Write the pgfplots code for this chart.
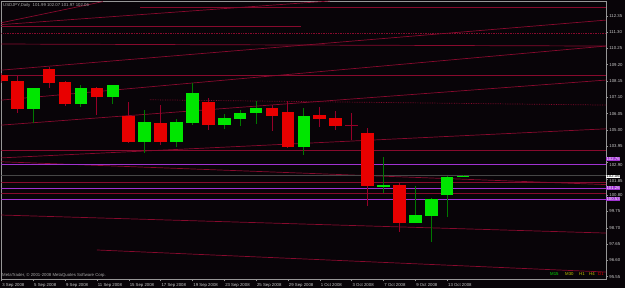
\documentclass[border=0pt]{standalone}
\usepackage{pgfplots}
\pgfplotsset{compat=1.18}
\usepackage{pgfplotstable}
\usepackage{fontspec}
\setmainfont{Liberation Sans}

\definecolor{bg}{RGB}{8,4,8}
\definecolor{framegray}{RGB}{150,150,150}
\definecolor{labelgray}{RGB}{200,200,200}
\definecolor{titlegray}{RGB}{170,170,170}
\definecolor{upbody}{RGB}{0,230,0}
\definecolor{dnbody}{RGB}{232,0,0}
\definecolor{upwick}{RGB}{0,120,0}
\definecolor{dnwick}{RGB}{150,0,40}
\definecolor{trend}{RGB}{135,10,45}
\definecolor{purp}{RGB}{160,50,210}
\definecolor{bidgray}{RGB}{70,70,70}
\definecolor{tfyellow}{RGB}{200,200,0}

% USDJPY daily candles (index, open, high, low, close)
\pgfplotstableread{
i o h l c
0 108.53 108.66 108.02 108.15
1 108.15 108.53 106.11 106.34
3 108.92 109.07 107.68 108.04
4 108.08 108.15 106.54 106.69
6 107.70 107.76 105.96 107.10
8 105.91 106.81 104.18 104.24
10 105.42 106.60 104.03 104.24
13 106.79 107.03 104.99 105.31
17 106.39 106.60 104.95 105.89
18 106.15 106.85 103.84 103.87
20 105.93 106.45 105.20 105.72
21 105.76 106.22 104.99 105.27
23 104.82 105.10 100.10 101.41
25 101.47 101.58 98.45 99.03
}\reddata

\pgfplotstableread{
i o h l c
22 105.31 106.09 104.32 105.28
}\dojidata

\pgfplotstableread{
i o h l c
2 106.34 107.73 105.42 107.68
5 106.69 107.89 106.49 107.70
7 107.10 107.92 106.65 107.87
9 104.24 106.28 103.49 105.49
11 104.20 105.68 103.92 105.49
12 105.42 108.00 105.31 107.39
14 105.31 106.00 105.04 105.75
15 105.68 106.28 105.27 106.11
16 106.07 106.88 105.38 106.39
19 103.88 106.39 103.38 105.91
24 101.34 103.24 100.96 101.45
26 99.03 101.39 98.99 99.52
27 99.48 100.63 97.78 100.53
28 100.83 102.03 99.41 101.95
29 101.99 102.07 101.97 102.06
}\greendata

\pgfplotsset{
  wicks/.style={draw=none, mark=none, forget plot,
    error bars/.cd, y dir=both, y explicit, error mark=none,
    error bar style={draw=#1, line width=1pt, solid}},
  bodies/.style={draw=none, mark=none, forget plot,
    error bars/.cd, y dir=both, y explicit, error mark=none,
    error bar style={draw=#1, line width=12.6pt, solid}},
  tl/.style={trend, line width=0.7pt},
}

\begin{document}
\begin{tikzpicture}[x=1pt,y=1pt,font=\fontsize{4.3}{5}\selectfont]
\fill[bg] (0,0) rectangle (625,288);
\path[use as bounding box] (0,0) rectangle (625,288);
\begin{axis}[
  at={(1.4pt,8.5pt)}, anchor=south west,
  width=604.6pt, height=278.5pt, scale only axis,
  xmin=0, xmax=37.98, ymin=95.37, ymax=113.30,
  axis line style={draw=framegray, line width=0.6pt},
  tick align=outside, major tick length=2pt,
  tick style={draw=framegray, line width=0.5pt},
  xtick pos=bottom, ytick pos=right,
  xtick={0,2,4,6,8,10,12,14,16,18,20,22,24,26,28},
  xticklabels={3 Sep 2008,5 Sep 2008,9 Sep 2008,11 Sep 2008,15 Sep 2008,17 Sep 2008,19 Sep 2008,23 Sep 2008,25 Sep 2008,29 Sep 2008,1 Oct 2008,3 Oct 2008,7 Oct 2008,9 Oct 2008,13 Oct 2008},
  x tick label style={anchor=north west, inner sep=0pt, yshift=-1.5pt, xshift=0.8pt, text=labelgray},
  ytick={95.55,96.60,97.65,98.70,99.75,100.80,101.85,102.90,103.95,105.00,106.05,107.10,108.15,109.20,110.25,111.30,112.35},
  yticklabels={95.55,96.60,97.65,98.70,99.75,100.80,\raisebox{-3.9pt}[0pt][0pt]{101.85},\raisebox{-3.7pt}[0pt][0pt]{102.90},103.95,105.00,106.05,107.10,108.15,109.20,110.25,111.30,112.35},
  yticklabel pos=right,
  y tick label style={anchor=west, inner sep=0pt, xshift=1.2pt, text=labelgray},
]
% trend lines
\addplot[tl] coordinates {(0,111.90) (6.38,113.26)};
\addplot[tl] coordinates {(0,111.78) (20.64,113.30)};
\addplot[tl] coordinates {(8.71,112.89) (37.98,112.89)};
\addplot[tl] coordinates {(0,111.69) (18.8,111.69)};
\addplot[tl, densely dotted] coordinates {(0,111.22) (37.98,111.22)};
\addplot[tl] coordinates {(0,110.53) (37.98,110.40)};
\addplot[tl] coordinates {(0,106.92) (37.98,110.40)};
\addplot[tl] coordinates {(0,108.85) (37.98,112.07)};
\addplot[tl] coordinates {(0,108.50) (37.98,108.50)};
\addplot[tl] coordinates {(0,105.31) (37.98,108.21)};
\addplot[tl, densely dotted] coordinates {(9.33,106.94) (37.98,106.60)};
\addplot[tl] coordinates {(0,103.20) (37.98,105.07)};
\addplot[tl] coordinates {(0,103.67) (37.98,103.67)};
\addplot[tl] coordinates {(0,102.95) (37.98,101.48)};
\addplot[tl] coordinates {(0,101.60) (37.98,101.60)};
\addplot[tl] coordinates {(0,100.90) (37.98,100.90)};
\addplot[tl] coordinates {(0,99.52) (37.98,98.36)};
\addplot[tl] coordinates {(6.0,97.27) (37.98,95.85)};
\addplot[bidgray, line width=0.7pt] coordinates {(0,102.06) (37.98,102.06)};
\addplot[purp, line width=0.8pt] coordinates {(0,102.76) (37.98,102.76)};
\addplot[purp, line width=0.8pt] coordinates {(0,101.26) (37.98,101.26)};
\addplot[purp, line width=0.8pt] coordinates {(0,100.53) (37.98,100.53)};
% wicks
\addplot[wicks=dnwick]
  table[x=i, y expr={(\thisrow{h}+\thisrow{l})/2}, y error expr={(\thisrow{h}-\thisrow{l})/2}] {\reddata};
\addplot[wicks=dnwick]
  table[x=i, y expr={(\thisrow{h}+\thisrow{l})/2}, y error expr={(\thisrow{h}-\thisrow{l})/2}] {\dojidata};
\addplot[wicks=upwick]
  table[x=i, y expr={(\thisrow{h}+\thisrow{l})/2}, y error expr={(\thisrow{h}-\thisrow{l})/2}] {\greendata};
% bodies
\addplot[bodies=dnbody]
  table[x=i, y expr={(\thisrow{o}+\thisrow{c})/2}, y error expr={abs(\thisrow{o}-\thisrow{c})/2}] {\reddata};
\addplot[bodies=dnwick]
  table[x=i, y expr={(\thisrow{o}+\thisrow{c})/2}, y error expr={abs(\thisrow{o}-\thisrow{c})/2}] {\dojidata};
\addplot[bodies=upbody]
  table[x=i, y expr={(\thisrow{o}+\thisrow{c})/2}, y error expr={abs(\thisrow{o}-\thisrow{c})/2}] {\greendata};
\end{axis}
% texts
\node[anchor=west, inner sep=0pt, text=titlegray] at (3,283) {USDJPY,Daily\ \ 101.99 102.07 101.97 102.06};
\node[anchor=west, inner sep=0pt, text=titlegray] at (2,13) {MetaTrader, © 2001-2008 MetaQuotes Software Corp.};
\node[anchor=west, inner sep=0pt, text=upbody] at (550,14) {M15};
\node[anchor=west, inner sep=0pt, text=tfyellow] at (565,14) {M30};
\node[anchor=west, inner sep=0pt, text=tfyellow] at (579,14) {H1};
\node[anchor=west, inner sep=0pt, text=tfyellow] at (589,14) {H4};
\node[anchor=west, inner sep=0pt, text=dnbody] at (598,14) {D1};
% price labels
\node[anchor=west, fill=purp, text=white, inner sep=0.4pt] at (606,129) {102.76};
\node[anchor=west, fill=white, text=black, inner sep=0.4pt] at (606,111.5) {102.06};
\node[anchor=west, fill=purp, text=white, inner sep=0.4pt] at (606,100) {101.26};
\node[anchor=west, fill=purp, text=white, inner sep=0.4pt] at (606,88.7) {100.53};
\end{tikzpicture}
\end{document}
